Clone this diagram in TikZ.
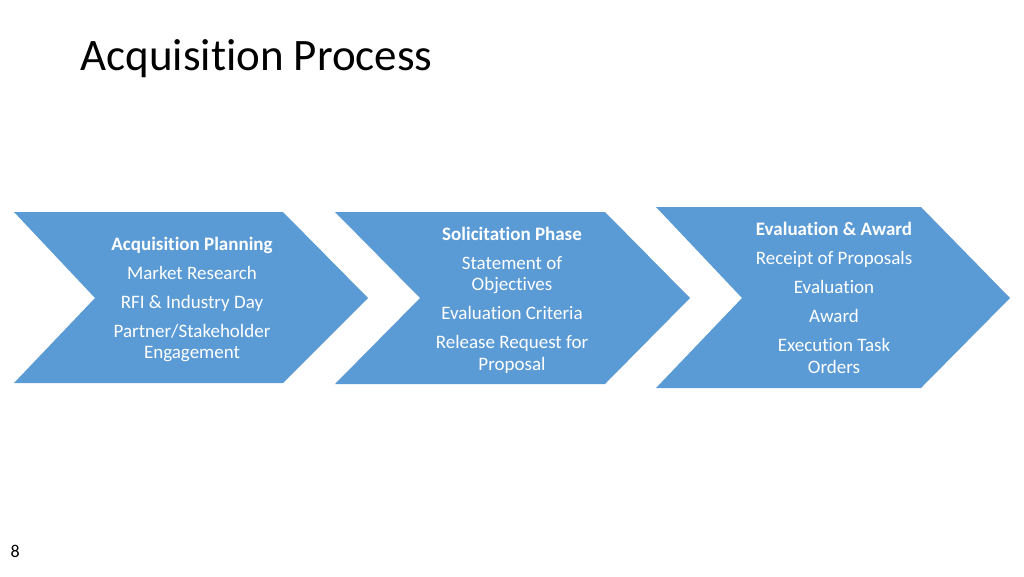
\documentclass[tikz,border=0pt]{standalone}
\usepackage{fontspec}
\setmainfont[Ligatures=NoCommon]{Carlito}
\usetikzlibrary{positioning}
\definecolor{chevblue}{HTML}{5B9BD5}
\tikzset{
	x=1pt, y=-1pt,
	chevron/.style={fill=chevblue, draw=none},
	steptext/.style={text=white, align=center, font=\fontsize{19}{21.5}\selectfont},
}
\newcommand{\gap}{\\[7.5pt]}

\begin{document}
\begin{tikzpicture}
		\useasboundingbox (0,0) rectangle (1024,576);
		\node[anchor=base west, font=\fontsize{45}{52}\selectfont] (title) at (77,70) {Acquisition Process};

		% chevrons
		\fill[chevron] (14,212) -- (283,212) -- (368,298) -- (283,383) -- (14,383) -- (95,298) -- cycle;
		\fill[chevron] (335,212) -- (605,212) -- (690,298) -- (605,384) -- (335,384) -- (420,298) -- cycle;
		\fill[chevron] (656,207) -- (921,207) -- (1010,298) -- (921,388) -- (656,388) -- (742,298) -- cycle;

		\node[steptext] (plan) at (192,299.5) {\textbf{Acquisition Planning}\gap Market Research\gap RFI \& Industry Day\gap Partner/Stakeholder\\Engagement};
		\node[steptext] (solic) at (512,300) {\textbf{Solicitation Phase}\gap Statement of\\Objectives\gap Evaluation Criteria\gap Release Request for\\Proposal};
		\node[steptext] (eval) at (834,298) {\textbf{Evaluation \& Award}\gap Receipt of Proposals\gap Evaluation\gap Award\gap Execution Task\\Orders};

		\node[anchor=base west, font=\fontsize{18}{21}\selectfont] (page) at (7,557) {8};
	\end{tikzpicture}
\end{document}
